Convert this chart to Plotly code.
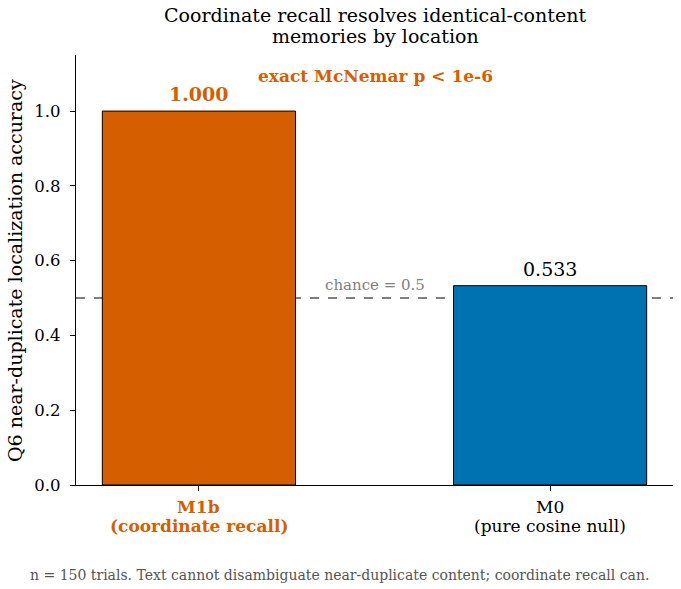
import plotly.graph_objects as go

categories = ["M1b", "M0"]
sublabels = ["(coordinate recall)", "(pure cosine null)"]
values = [1.000, 0.533]
colors = ["#D55E00", "#0072B2"]
chance = 0.5
yticks = [0.0, 0.2, 0.4, 0.6, 0.8, 1.0]
title_lines = ["Coordinate recall resolves identical-content", "memories by location"]
ytitle = "Q6 near-duplicate localization accuracy"
stat_text = "exact McNemar p < 1e-6"
footer = "n = 150 trials. Text cannot disambiguate near-duplicate content; coordinate recall can."

FONT = "DejaVu Serif"
L, R, T, B = 76, 8, 55, 104
W, H = 681, 589
PW, PH = W - L - R, H - T - B


def px_x(px):
    return (px - L) / PW


def px_y(py):
    return (H - B - py) / PH


fig = go.Figure()
fig.add_trace(go.Bar(
    x=[0, 1], y=values, width=0.55,
    marker=dict(color=colors, line=dict(color="black", width=1)),
    hoverinfo="skip", showlegend=False,
))

fig.add_shape(type="line", xref="paper", x0=0, x1=1, yref="y", y0=chance, y1=chance,
              line=dict(color="#808080", width=2, dash="dash"), layer="below")

fig.update_layout(
    width=W, height=H,
    margin=dict(l=L, r=R, t=T, b=B),
    plot_bgcolor="rgba(0,0,0,0)", paper_bgcolor="white",
    font=dict(family=FONT, color="black", size=14),
    xaxis=dict(range=[-0.35, 1.35], tickvals=[0, 1], ticktext=["", ""],
               showline=True, linecolor="black", linewidth=1.3, ticks="outside",
               ticklen=5, tickcolor="black", showgrid=False, zeroline=False),
    yaxis=dict(range=[0, 1.15], tickvals=yticks, ticktext=[f"{v:.1f}" for v in yticks],
               showline=True, linecolor="black", linewidth=1.3, ticks="outside",
               ticklen=5, tickcolor="black", showgrid=False, zeroline=False,
               ticklabelstandoff=6,
               tickfont=dict(size=16.5, family=FONT)),
)

# title lines
for line, py in zip(title_lines, [15, 36]):
    fig.add_annotation(xref="paper", x=px_x(375), yref="paper", y=px_y(py), text=line,
                       showarrow=False, xanchor="center", yanchor="middle",
                       font=dict(size=19, family=FONT, color="black"))

# y-axis title
fig.add_annotation(xref="paper", x=px_x(15), yref="paper", y=px_y(271), text=ytitle,
                   textangle=-90, showarrow=False, xanchor="center", yanchor="middle",
                   font=dict(size=19, family=FONT, color="black"))

# x category labels
for i, (cat, sub) in enumerate(zip(categories, sublabels)):
    if i == 0:
        t1, t2, col = f"<b>{cat}</b>", f"<b>{sub}</b>", colors[0]
    else:
        t1, t2, col = cat, sub, "black"
    fig.add_annotation(x=i, yref="paper", y=px_y(507), text=t1, showarrow=False,
                       xanchor="center", yanchor="middle", font=dict(size=17, color=col, family=FONT))
    fig.add_annotation(x=i, yref="paper", y=px_y(526), text=t2, showarrow=False,
                       xanchor="center", yanchor="middle", font=dict(size=17, color=col, family=FONT))

fig.add_annotation(x=0, y=values[0], text=f"<b>{values[0]:.3f}</b>", showarrow=False,
                   yanchor="bottom", yshift=4, font=dict(size=19, color=colors[0], family=FONT))
fig.add_annotation(x=1, y=values[1], text=f"{values[1]:.3f}", showarrow=False,
                   yanchor="bottom", yshift=4, font=dict(size=19, color="black", family=FONT))
fig.add_annotation(x=0.5, y=chance, text=f"chance = {chance}", showarrow=False,
                   yanchor="bottom", yshift=2, font=dict(size=15, color="#808080", family=FONT))
fig.add_annotation(xref="paper", x=px_x(375), yref="paper", y=px_y(76),
                   text=f"<b>{stat_text.replace('<', '&lt;')}</b>", showarrow=False,
                   xanchor="center", yanchor="middle",
                   font=dict(size=17, color=colors[0], family=FONT))
fig.add_annotation(xref="paper", x=px_x(339), yref="paper", y=px_y(575),
                   text=footer, showarrow=False, xanchor="center", yanchor="middle",
                   font=dict(size=14, color="#555555", family=FONT))

fig.write_html("out.html")
